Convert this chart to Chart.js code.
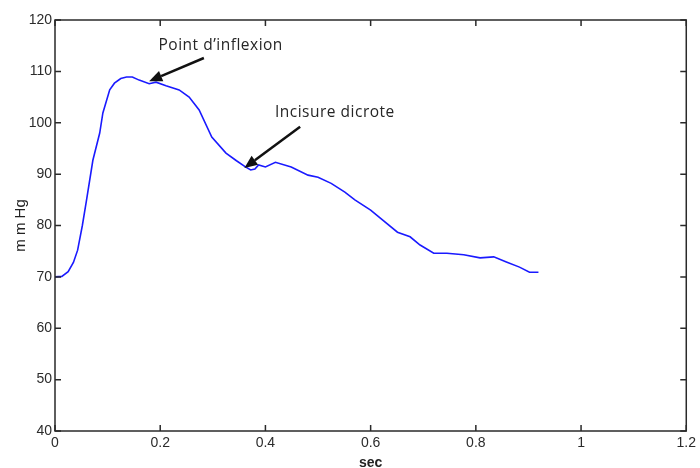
<!DOCTYPE html>
<html>
<head>
<meta charset="utf-8">
<script src="https://cdn.jsdelivr.net/npm/chart.js@4.4.1/dist/chart.umd.min.js"></script>
<style>
  html, body { margin: 0; padding: 0; background: #fff; }
  #wrap { width: 700px; height: 468px; }
</style>
</head>
<body>
<div id="wrap"><canvas id="pressureChart" width="700" height="468"></canvas></div>
<script>
// time in seconds and pressure in mmHg
const tSec = [0.000, 0.013, 0.025, 0.035, 0.043, 0.052, 0.060, 0.072, 0.085, 0.091,
  0.104, 0.113, 0.125, 0.136, 0.147, 0.160, 0.179, 0.192, 0.211, 0.236,
  0.255, 0.274, 0.298, 0.325, 0.345, 0.362, 0.372, 0.380, 0.387, 0.400,
  0.419, 0.449, 0.481, 0.500, 0.525, 0.551, 0.570, 0.600, 0.619, 0.651,
  0.675, 0.694, 0.720, 0.745, 0.777, 0.808, 0.834, 0.858, 0.883, 0.902, 0.919];
const mmHg = [70.0, 70.1, 71.0, 72.8, 75.2, 80.0, 85.0, 92.7, 98.0, 101.9,
  106.4, 107.7, 108.6, 108.9, 108.9, 108.3, 107.6, 107.9, 107.2, 106.4,
  105.0, 102.5, 97.2, 94.1, 92.6, 91.4, 90.8, 91.0, 91.8, 91.4,
  92.3, 91.4, 89.8, 89.4, 88.2, 86.5, 85.0, 83.0, 81.4, 78.7,
  77.8, 76.2, 74.6, 74.6, 74.3, 73.7, 73.9, 72.9, 71.9, 70.9, 70.9];

const xTicks = [0, 0.2, 0.4, 0.6, 0.8, 1, 1.2];
const yTicks = [40, 50, 60, 70, 80, 90, 100, 110, 120];

// annotations: label text, label position, arrow tail and arrow tip (data units)
const noteText = ['Point d\u2019inflexion', 'Incisure dicrote'];
const noteAt = [[0.315, 115.1], [0.532, 101.9]];
const arrowFrom = [[0.283, 112.6], [0.466, 99.2]];
const arrowTo = [[0.179, 108.1], [0.360, 91.2]];

const points = tSec.map((t, i) => ({ x: t, y: mmHg[i] }));

// matlab-like box with inward ticks
const boxTicks = {
  id: 'boxTicks',
  afterDraw(chart) {
    const { ctx, chartArea: a, scales } = chart;
    const len = 6;
    ctx.save();
    ctx.strokeStyle = '#2a2a2a';
    ctx.lineWidth = 1.5;
    ctx.strokeRect(a.left, a.top, a.right - a.left, a.bottom - a.top);
    ctx.beginPath();
    xTicks.forEach(v => {
      const px = scales.x.getPixelForValue(v);
      ctx.moveTo(px, a.bottom); ctx.lineTo(px, a.bottom - len);
      ctx.moveTo(px, a.top); ctx.lineTo(px, a.top + len);
    });
    yTicks.forEach(v => {
      const py = scales.y.getPixelForValue(v);
      ctx.moveTo(a.left, py); ctx.lineTo(a.left + len, py);
      ctx.moveTo(a.right, py); ctx.lineTo(a.right - len, py);
    });
    ctx.stroke();
    ctx.restore();
  }
};

const notes = {
  id: 'notes',
  afterDatasetsDraw(chart) {
    const { ctx, scales } = chart;
    const X = v => scales.x.getPixelForValue(v);
    const Y = v => scales.y.getPixelForValue(v);
    ctx.save();
    ctx.font = '15.5px "Open Sans", sans-serif';
    ctx.letterSpacing = '0.5px';
    ctx.textAlign = 'center';
    ctx.textBaseline = 'middle';
    noteText.forEach((txt, i) => {
      ctx.fillStyle = '#262626';
      ctx.fillText(txt, X(noteAt[i][0]), Y(noteAt[i][1]));

      const x0 = X(arrowFrom[i][0]), y0 = Y(arrowFrom[i][1]);
      const x1 = X(arrowTo[i][0]), y1 = Y(arrowTo[i][1]);
      const ang = Math.atan2(y1 - y0, x1 - x0);
      const head = 13, w = 5.5;
      const bx = x1 - head * Math.cos(ang), by = y1 - head * Math.sin(ang);
      ctx.strokeStyle = '#111';
      ctx.lineWidth = 2.5;
      ctx.beginPath();
      ctx.moveTo(x0, y0); ctx.lineTo(bx, by);
      ctx.stroke();
      ctx.fillStyle = '#111';
      ctx.beginPath();
      ctx.moveTo(x1, y1);
      ctx.lineTo(bx + w * Math.sin(ang), by - w * Math.cos(ang));
      ctx.lineTo(bx - w * Math.sin(ang), by + w * Math.cos(ang));
      ctx.closePath();
      ctx.fill();
    });
    ctx.restore();
  }
};

const tickFont = { family: 'Arial, "Liberation Sans", sans-serif', size: 14 };

new Chart(document.getElementById('pressureChart'), {
  type: 'line',
  data: {
    datasets: [{
      data: points,
      borderColor: '#1a1aff',
      borderWidth: 1.6,
      pointRadius: 0,
      tension: 0,
      fill: false
    }]
  },
  options: {
    responsive: false,
    animation: false,
    layout: { padding: { top: 20, right: 9, left: 0, bottom: 0 } },
    plugins: { legend: { display: false }, tooltip: { enabled: false } },
    scales: {
      x: {
        type: 'linear',
        min: 0, max: 1.2,
        afterBuildTicks: s => { s.ticks = xTicks.map(v => ({ value: v })); },
        afterFit: s => { s.height = 37; },
        grid: { display: false, drawTicks: false },
        border: { display: false },
        ticks: {
          color: '#2b2b2b', font: tickFont, padding: 4, maxRotation: 0,
          callback: v => String(v)
        },
        title: {
          display: true, text: 'sec', color: '#222',
          font: { family: 'Arial, sans-serif', size: 14, weight: 'bold' },
          padding: { top: 0, bottom: -4 }
        }
      },
      y: {
        min: 40, max: 120,
        afterBuildTicks: s => { s.ticks = yTicks.map(v => ({ value: v })); },
        afterFit: s => { s.width = 55; },
        grid: { display: false, drawTicks: false },
        border: { display: false },
        ticks: { color: '#2b2b2b', font: tickFont, padding: 3 },
        title: {
          display: true, text: 'm m Hg', color: '#222',
          font: { family: 'Arial, sans-serif', size: 15 },
          padding: { top: 12, bottom: 0 }
        }
      }
    }
  },
  plugins: [boxTicks, notes]
});
</script>
</body>
</html>
